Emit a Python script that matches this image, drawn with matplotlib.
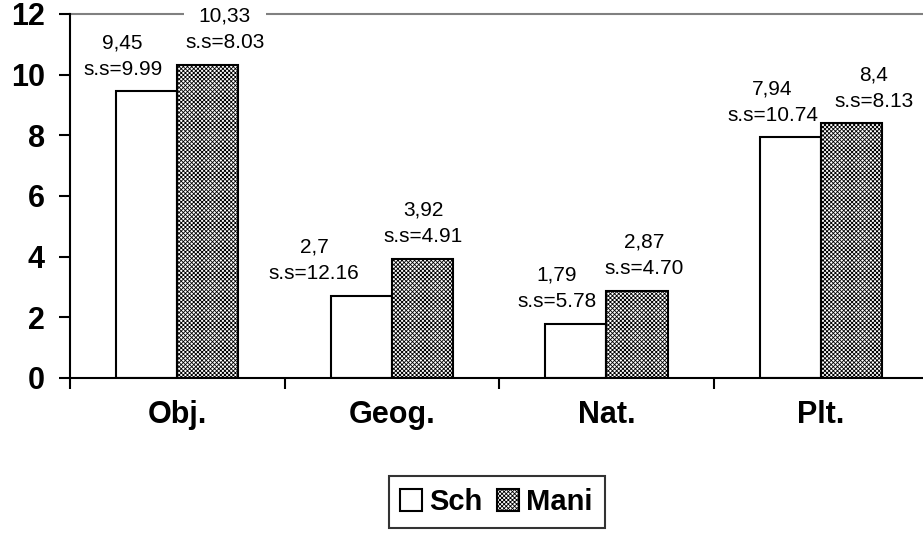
import numpy as np
import matplotlib.pyplot as plt

plt.rcParams['font.family'] = ['Liberation Sans', 'DejaVu Sans']
plt.rcParams['hatch.linewidth'] = 0.6

categories = ['Obj.', 'Geog.', 'Nat.', 'Plt.']
sch = [9.45, 2.7, 1.79, 7.94]
mani = [10.33, 3.92, 2.87, 8.4]
sch_sd = ['9.99', '12.16', '5.78', '10.74']
mani_sd = ['8.03', '4.91', '4.70', '8.13']
sch_txt = ['9,45', '2,7', '1,79', '7,94']
mani_txt = ['10,33', '3,92', '2,87', '8,4']

# label shifts in pixels (manual placement as in the original)
sch_dx = [-24, -47, -19, -18]
mani_dx = [17, 1, 7, 22]

fig = plt.figure(figsize=(9.23, 5.33), dpi=100)
ax = fig.add_axes([0.0758, 0.291, 0.93, 0.683])

x = np.arange(len(categories))
w = 0.285
b1 = ax.bar(x - w / 2, sch, w, color='white', edgecolor='black', linewidth=1.5, label='Sch')
b2 = ax.bar(x + w / 2, mani, w, color='white', edgecolor='black', linewidth=1.5,
            hatch='xxxxxxxx', label='Mani')

for i in range(len(categories)):
    ax.annotate(sch_txt[i] + '\ns.s=' + sch_sd[i], (x[i] - w / 2, sch[i]),
                xytext=(sch_dx[i] * 0.72, 9), textcoords='offset points',
                ha='center', va='bottom', fontsize=15, linespacing=1.5)
    ax.annotate(mani_txt[i] + '\ns.s=' + mani_sd[i], (x[i] + w / 2, mani[i]),
                xytext=(mani_dx[i] * 0.72, 9), textcoords='offset points',
                ha='center', va='bottom', fontsize=15, linespacing=1.5,
                bbox=dict(facecolor='white', edgecolor='none', pad=1) if i == 0 else None)

ax.set_xlim(-0.5, 3.5)
ax.set_ylim(0, 12)
ax.set_yticks([0, 2, 4, 6, 8, 10, 12])
ax.set_xticks(np.arange(-0.5, 4.0, 1.0))
ax.set_xticklabels([])
ax.set_xticks(x, minor=True)
ax.set_xticklabels(categories, minor=True, fontsize=22, fontweight='bold')
ax.tick_params(axis='x', which='minor', length=0, pad=16)
ax.tick_params(axis='x', which='major', direction='out', length=8, width=1.5)
ax.tick_params(axis='y', direction='out', length=8, width=1.5, pad=10)
for lab in ax.get_yticklabels():
    lab.set_fontsize(22)
    lab.set_fontweight('bold')

ax.spines['right'].set_visible(False)
ax.spines['top'].set_color('#808080')
ax.spines['top'].set_linewidth(1.5)
ax.spines['left'].set_linewidth(1.5)
ax.spines['bottom'].set_linewidth(1.5)
ax.spines['top'].set_zorder(0)

leg = fig.legend(handles=[b1, b2], loc='center', bbox_to_anchor=(0.538, 0.058), ncol=2,
                 frameon=True, fancybox=False, edgecolor='black',
                 prop=dict(size=21, weight='bold'), handlelength=0.75, handleheight=0.75,
                 handletextpad=0.25, columnspacing=0.5, borderpad=0.4)
leg.get_frame().set_linewidth(1.5)

fig.savefig('out.png', dpi=100)
